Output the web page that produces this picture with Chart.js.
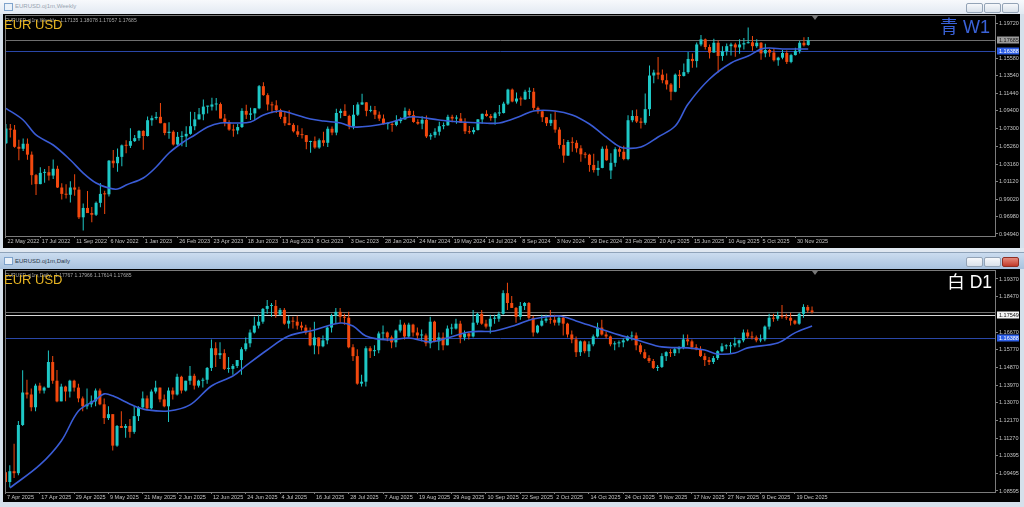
<!DOCTYPE html>
<html>
<head>
<meta charset="utf-8">
<script src="https://cdn.jsdelivr.net/npm/chart.js@4.4.1/dist/chart.umd.min.js"></script>
<style>
  body { margin:0; width:1024px; height:507px; overflow:hidden; position:relative; background:#d6e0eb; font-family:'Liberation Sans', Arial, sans-serif; }
  .bar { position:absolute; left:0; width:1024px; }
  .ttl { position:absolute; left:15px; font-size:6px; white-space:nowrap; }
  .ico { position:absolute; left:4px; width:7px; height:6px; border:1px solid #7fa3cc; background:#eaf1f9; }
  .btn { position:absolute; width:15px; height:8px; border:1px solid #93a3b6; border-radius:2px; background:linear-gradient(#f6f8fb,#d9e1ea); }
  .client { position:absolute; left:3px; width:1017px; background:#000; }
  .client canvas { position:absolute; left:0; top:0; }
  .hdr { position:absolute; left:5px; font-size:5px; color:#a8a8a8; white-space:nowrap; }
  .sym { position:absolute; left:4px; font-size:13px; line-height:13px; color:#e6b422; white-space:nowrap; }
  .tf { position:absolute; font-family:'Liberation Sans','Noto Sans CJK JP',sans-serif; white-space:nowrap; }
  .shift { position:absolute; width:0; height:0; border-left:3px solid transparent; border-right:3px solid transparent; border-top:4px solid #777; }
</style>
</head>
<body>

<!-- weekly window -->
<div class="bar" style="top:0;height:14px;background:linear-gradient(#f7f9fc,#e2e9f2);">
  <div class="ico" style="top:3px"></div>
  <div class="ttl" style="top:3px;color:#98a4b1">EURUSD.oj1m,Weekly</div>
  <div class="btn" style="left:966px;top:3px"></div>
  <div class="btn" style="left:984px;top:3px"></div>
  <div class="btn" style="left:1002px;top:3px"></div>
</div>
<div class="client" style="top:14px;height:234px"><canvas id="weekly" width="1017" height="234"></canvas></div>
<div class="hdr" style="top:17px">EURUSD.oj1m,Weekly&nbsp;&nbsp;&nbsp;1.17135 1.18078 1.17057 1.17685</div>
<div class="sym" style="top:18px">EUR USD</div>
<div class="tf" style="right:34px;top:18px;font-size:18px;line-height:18px;color:#3a62d8">青 W1</div>
<div class="shift" style="left:812px;top:16px"></div>
<div class="bar" style="top:248px;height:4px;background:#dfe7f0;border-bottom:1px solid #8fa3b9"></div>

<!-- daily window -->
<div class="bar" style="top:253px;height:16px;background:linear-gradient(#cbdcef,#a9c2de);">
  <div class="ico" style="top:4px"></div>
  <div class="ttl" style="top:5px;color:#2b3a4c">EURUSD.oj1m,Daily</div>
  <div class="btn" style="left:966px;top:4px"></div>
  <div class="btn" style="left:984px;top:4px"></div>
  <div class="btn" style="left:1002px;top:4px;background:linear-gradient(#e58a7c,#c23a2a);border-color:#8f2e23"></div>
</div>
<div class="client" style="top:269px;height:233px"><canvas id="daily" width="1017" height="233"></canvas></div>
<div class="hdr" style="top:272px">EURUSD.oj1m,Daily&nbsp;&nbsp;&nbsp;1.17767 1.17966 1.17614 1.17685</div>
<div class="sym" style="top:273px">EUR USD</div>
<div class="tf" style="right:32px;top:274px;font-size:17.5px;line-height:17.5px;color:#ffffff">白 D1</div>
<div class="shift" style="left:812px;top:271px"></div>

<script>
// ---- weekly EURUSD, 22 May 2022 .. 21 Dec 2025 ----
const weeklyOpen = [
  1.0560,1.0733,1.0719,1.0518,1.0495,1.0554,1.0426,1.0185,1.0080,1.0212,
  1.0220,1.0180,1.0260,1.0040,0.9965,0.9955,1.0040,1.0015,0.9690,0.9800,
  0.9740,0.9720,0.9860,0.9965,0.9960,1.0355,1.0325,1.0400,1.0535,1.0530,
  1.0585,1.0620,1.0705,1.0645,1.0830,1.0855,1.0870,1.0795,1.0680,1.0695,
  1.0545,1.0635,1.0640,1.0670,1.0760,1.0840,1.0900,1.0990,1.0990,1.1015,
  1.1020,1.0850,1.0805,1.0720,1.0710,1.0750,1.0940,1.0895,1.0910,1.0970,
  1.1230,1.1125,1.1015,1.1005,1.0950,1.0870,1.0795,1.0775,1.0700,1.0660,
  1.0655,1.0575,1.0585,1.0510,1.0595,1.0565,1.0730,1.0685,1.0915,1.0940,
  1.0880,1.0760,1.0895,1.1015,1.1040,1.0940,1.0950,1.0895,1.0850,1.0785,
  1.0785,1.0775,1.0820,1.0840,1.0940,1.0890,1.0810,1.0790,1.0835,1.0640,
  1.0655,1.0695,1.0760,1.0770,1.0870,1.0850,1.0850,1.0800,1.0700,1.0690,
  1.0715,1.0840,1.0905,1.0880,1.0855,1.0910,1.0915,1.1025,1.1190,1.1050,
  1.1085,1.1075,1.1165,1.1165,1.0975,1.0935,1.0865,1.0795,1.0835,1.0720,
  1.0540,1.0415,1.0575,1.0565,1.0500,1.0430,1.0425,1.0305,1.0245,1.0270,
  1.0495,1.0240,1.0330,1.0490,1.0460,1.0375,1.0830,1.0880,1.0815,1.0800,
  1.0960,1.1355,1.1390,1.1365,1.1300,1.1250,1.1165,1.1365,1.1350,1.1395,
  1.1550,1.1525,1.1720,1.1780,1.1690,1.1625,1.1740,1.1585,1.1640,1.1700,
  1.1720,1.1685,1.1720,1.1735,1.1745,1.1700,1.1740,1.1615,1.1655,1.1625,
  1.1535,1.1565,1.1620,1.1515,1.1595,1.1645,1.1740,1.1714
];
const weeklyHigh = [
  1.0787,1.0787,1.0774,1.0601,1.0615,1.0615,1.0462,1.0200,1.0279,1.0258,
  1.0294,1.0368,1.0296,1.0090,1.0079,1.0113,1.0197,1.0050,0.9853,0.9999,
  0.9810,0.9875,1.0094,1.0001,1.0364,1.0481,1.0497,1.0545,1.0594,1.0737,
  1.0657,1.0713,1.0713,1.0874,1.0887,1.0928,1.1033,1.0801,1.0805,1.0712,
  1.0692,1.0700,1.0760,1.0930,1.0927,1.0973,1.1075,1.1000,1.1095,1.1092,
  1.1037,1.0904,1.0829,1.0779,1.0787,1.0971,1.1012,1.0976,1.0973,1.1245,
  1.1276,1.1148,1.1046,1.1065,1.0965,1.0930,1.0946,1.0796,1.0770,1.0737,
  1.0658,1.0588,1.0640,1.0617,1.0695,1.0756,1.0756,1.0966,1.0965,1.1017,
  1.0895,1.1009,1.1040,1.1140,1.1045,1.1000,1.0998,1.0933,1.0897,1.0807,
  1.0805,1.0888,1.0866,1.0981,1.0964,1.0942,1.0843,1.0876,1.0885,1.0678,
  1.0735,1.0812,1.0804,1.0895,1.0895,1.0889,1.0916,1.0852,1.0761,1.0749,
  1.0845,1.0910,1.0948,1.0902,1.0926,1.1008,1.1048,1.1201,1.1202,1.1155,
  1.1109,1.1189,1.1214,1.1210,1.0990,1.0942,1.0867,1.0905,1.0937,1.0749,
  1.0610,1.0597,1.0630,1.0594,1.0536,1.0456,1.0437,1.0436,1.0353,1.0522,
  1.0533,1.0442,1.0514,1.0528,1.0530,1.0888,1.0947,1.0955,1.0858,1.1144,
  1.1473,1.1424,1.1573,1.1425,1.1380,1.1266,1.1378,1.1420,1.1495,1.1631,
  1.1614,1.1743,1.1830,1.1790,1.1720,1.1788,1.1770,1.1700,1.1730,1.1740,
  1.1740,1.1780,1.1795,1.1918,1.1820,1.1780,1.1750,1.1728,1.1670,1.1670,
  1.1575,1.1655,1.1650,1.1610,1.1680,1.1765,1.1805,1.1808
];
const weeklyLow = [
  1.0550,1.0627,1.0506,1.0359,1.0469,1.0366,1.0072,0.9952,1.0077,1.0097,
  1.0123,1.0141,1.0034,0.9899,0.9910,0.9864,0.9944,0.9669,0.9535,0.9740,
  0.9632,0.9705,0.9808,0.9730,0.9935,1.0271,1.0224,1.0290,1.0443,1.0505,
  1.0575,1.0589,1.0483,1.0640,1.0766,1.0835,1.0795,1.0653,1.0614,1.0533,
  1.0533,1.0525,1.0516,1.0660,1.0713,1.0838,1.0831,1.0910,1.0944,1.0943,
  1.0850,1.0760,1.0706,1.0635,1.0666,1.0740,1.0845,1.0834,1.0833,1.0960,
  1.1119,1.0944,1.0912,1.0916,1.0845,1.0765,1.0771,1.0686,1.0632,1.0617,
  1.0488,1.0448,1.0496,1.0495,1.0524,1.0516,1.0655,1.0655,1.0852,1.0880,
  1.0724,1.0723,1.0880,1.1008,1.0877,1.0924,1.0844,1.0822,1.0780,1.0722,
  1.0695,1.0760,1.0795,1.0836,1.0872,1.0802,1.0776,1.0724,1.0622,1.0601,
  1.0624,1.0650,1.0723,1.0764,1.0805,1.0788,1.0797,1.0667,1.0671,1.0666,
  1.0710,1.0790,1.0870,1.0825,1.0776,1.0880,1.0910,1.1008,1.1040,1.1026,
  1.1001,1.1069,1.1080,1.0951,1.0905,1.0810,1.0761,1.0761,1.0682,1.0496,
  1.0332,1.0410,1.0460,1.0451,1.0343,1.0384,1.0226,1.0215,1.0178,1.0265,
  1.0355,1.0141,1.0285,1.0400,1.0360,1.0360,1.0805,1.0797,1.0733,1.0777,
  1.0880,1.1265,1.1310,1.1265,1.1190,1.1065,1.1160,1.1209,1.1345,1.1375,
  1.1446,1.1450,1.1700,1.1660,1.1556,1.1625,1.1392,1.1530,1.1590,1.1590,
  1.1575,1.1610,1.1660,1.1730,1.1645,1.1680,1.1540,1.1570,1.1575,1.1520,
  1.1470,1.1545,1.1490,1.1500,1.1590,1.1615,1.1695,1.1706
];
const weeklyClose = [
  1.0733,1.0719,1.0518,1.0495,1.0554,1.0426,1.0185,1.0080,1.0212,1.0220,
  1.0180,1.0260,1.0040,0.9965,0.9955,1.0040,1.0015,0.9690,0.9800,0.9740,
  0.9720,0.9860,0.9965,0.9960,1.0355,1.0325,1.0400,1.0535,1.0530,1.0585,
  1.0620,1.0705,1.0645,1.0830,1.0855,1.0870,1.0795,1.0680,1.0695,1.0545,
  1.0635,1.0640,1.0670,1.0760,1.0840,1.0900,1.0990,1.0990,1.1015,1.1020,
  1.0850,1.0805,1.0720,1.0710,1.0750,1.0940,1.0895,1.0910,1.0970,1.1230,
  1.1125,1.1015,1.1005,1.0950,1.0870,1.0795,1.0775,1.0700,1.0660,1.0655,
  1.0575,1.0585,1.0510,1.0595,1.0565,1.0730,1.0685,1.0915,1.0940,1.0880,
  1.0760,1.0895,1.1015,1.1040,1.0940,1.0950,1.0895,1.0850,1.0785,1.0785,
  1.0775,1.0820,1.0840,1.0940,1.0890,1.0810,1.0790,1.0835,1.0640,1.0655,
  1.0695,1.0760,1.0770,1.0870,1.0850,1.0850,1.0800,1.0700,1.0690,1.0715,
  1.0840,1.0905,1.0880,1.0855,1.0910,1.0915,1.1025,1.1190,1.1050,1.1085,
  1.1075,1.1165,1.1165,1.0975,1.0935,1.0865,1.0795,1.0835,1.0720,1.0540,
  1.0415,1.0575,1.0565,1.0500,1.0430,1.0425,1.0305,1.0245,1.0270,1.0495,
  1.0360,1.0330,1.0490,1.0460,1.0375,1.0830,1.0880,1.0815,1.0800,1.0960,
  1.1355,1.1390,1.1365,1.1300,1.1250,1.1165,1.1365,1.1350,1.1395,1.1550,
  1.1525,1.1720,1.1780,1.1690,1.1625,1.1740,1.1585,1.1640,1.1700,1.1720,
  1.1685,1.1720,1.1735,1.1745,1.1700,1.1740,1.1615,1.1655,1.1625,1.1535,
  1.1565,1.1620,1.1515,1.1595,1.1645,1.1740,1.1710,1.1769
];
// moving average: bar index / price
const weeklyMaBar = [0,4,7,11,15,18,21,24,26,28,32,35,38,41,44,47,50,53,57,60,64,67,71,74,78,81,85,89,94,96,101,106,111,115,120,123,128,132,136,139,142,144,148,152,156,159,164,169,173,176,178,181,187];
const weeklyMaVal = [1.0970,1.0833,1.0657,1.0539,1.0363,1.0210,1.0093,1.0034,1.0022,1.0069,1.0152,1.0281,1.0445,1.0563,1.0657,1.0751,1.0798,1.0798,1.0809,1.0892,1.0939,1.0903,1.0845,1.0821,1.0798,1.0751,1.0762,1.0798,1.0868,1.0868,1.0833,1.0809,1.0798,1.0798,1.0880,1.0939,1.0939,1.0892,1.0786,1.0668,1.0551,1.0504,1.0516,1.0633,1.0762,1.1021,1.1314,1.1502,1.1584,1.1667,1.1678,1.1667,1.1667];
const weeklyDateLabels = ['22 May 2022','17 Jul 2022','11 Sep 2022','6 Nov 2022','1 Jan 2023','26 Feb 2023','23 Apr 2023','18 Jun 2023','13 Aug 2023','8 Oct 2023','3 Dec 2023','28 Jan 2024','24 Mar 2024','19 May 2024','14 Jul 2024','8 Sep 2024','3 Nov 2024','29 Dec 2024','23 Feb 2025','20 Apr 2025','15 Jun 2025','10 Aug 2025','5 Oct 2025','30 Nov 2025'];
const weeklyPriceTicks = [1.19720,1.15580,1.13540,1.11440,1.09400,1.07300,1.05260,1.03160,1.01120,0.99020,0.96980,0.94940];

// ---- daily EURUSD, 7 Apr 2025 .. 26 Dec 2025 ----
const dailyOpen = [
  1.0955,1.0905,1.0960,1.0950,1.1195,1.1360,1.1350,1.1285,1.1395,1.1370,
  1.1385,1.1515,1.1420,1.1315,1.1390,1.1365,1.1420,1.1385,1.1330,1.1290,
  1.1300,1.1315,1.1370,1.1300,1.1230,1.1250,1.1090,1.1190,1.1180,1.1190,
  1.1160,1.1240,1.1285,1.1330,1.1280,1.1365,1.1385,1.1325,1.1290,1.1370,
  1.1350,1.1440,1.1370,1.1420,1.1445,1.1395,1.1420,1.1425,1.1485,1.1585,
  1.1550,1.1560,1.1480,1.1480,1.1495,1.1525,1.1580,1.1610,1.1665,1.1700,
  1.1720,1.1785,1.1800,1.1800,1.1755,1.1780,1.1710,1.1725,1.1720,1.1700,
  1.1690,1.1665,1.1600,1.1640,1.1595,1.1625,1.1690,1.1750,1.1770,1.1745,
  1.1740,1.1590,1.1545,1.1405,1.1415,1.1585,1.1570,1.1575,1.1660,1.1665,
  1.1640,1.1615,1.1675,1.1705,1.1645,1.1705,1.1665,1.1650,1.1650,1.1610,
  1.1720,1.1620,1.1640,1.1600,1.1685,1.1685,1.1710,1.1640,1.1660,1.1645,
  1.1715,1.1760,1.1710,1.1695,1.1735,1.1735,1.1760,1.1865,1.1815,1.1790,
  1.1745,1.1800,1.1815,1.1740,1.1665,1.1700,1.1725,1.1735,1.1730,1.1715,
  1.1740,1.1710,1.1655,1.1630,1.1565,1.1620,1.1570,1.1605,1.1645,1.1690,
  1.1655,1.1645,1.1605,1.1610,1.1615,1.1625,1.1645,1.1650,1.1600,1.1565,
  1.1535,1.1520,1.1485,1.1490,1.1545,1.1565,1.1560,1.1580,1.1590,1.1630,
  1.1620,1.1590,1.1580,1.1545,1.1525,1.1515,1.1535,1.1570,1.1595,1.1595,
  1.1600,1.1610,1.1625,1.1665,1.1645,1.1640,1.1625,1.1630,1.1695,1.1740,
  1.1735,1.1750,1.1745,1.1740,1.1725,1.1710,1.1760,1.1795,1.1777
];
const dailyHigh = [
  1.0990,1.0990,1.1100,1.1215,1.1473,1.1425,1.1380,1.1405,1.1410,1.1390,
  1.1573,1.1545,1.1475,1.1405,1.1395,1.1425,1.1425,1.1405,1.1340,1.1380,
  1.1345,1.1380,1.1380,1.1330,1.1290,1.1250,1.1195,1.1265,1.1200,1.1225,
  1.1290,1.1290,1.1365,1.1345,1.1375,1.1420,1.1385,1.1350,1.1385,1.1385,
  1.1455,1.1445,1.1420,1.1495,1.1455,1.1425,1.1435,1.1490,1.1630,1.1615,
  1.1615,1.1580,1.1540,1.1505,1.1525,1.1590,1.1640,1.1680,1.1745,1.1755,
  1.1790,1.1830,1.1815,1.1830,1.1790,1.1790,1.1750,1.1745,1.1750,1.1720,
  1.1705,1.1690,1.1720,1.1640,1.1650,1.1695,1.1760,1.1790,1.1790,1.1760,
  1.1770,1.1605,1.1580,1.1450,1.1595,1.1595,1.1600,1.1670,1.1700,1.1670,
  1.1650,1.1680,1.1730,1.1715,1.1715,1.1710,1.1690,1.1680,1.1660,1.1745,
  1.1725,1.1665,1.1665,1.1700,1.1710,1.1735,1.1725,1.1675,1.1665,1.1780,
  1.1765,1.1780,1.1730,1.1755,1.1755,1.1770,1.1880,1.1918,1.1850,1.1795,
  1.1820,1.1820,1.1820,1.1750,1.1705,1.1755,1.1755,1.1780,1.1755,1.1750,
  1.1745,1.1715,1.1675,1.1645,1.1625,1.1625,1.1620,1.1655,1.1715,1.1730,
  1.1670,1.1650,1.1620,1.1625,1.1635,1.1650,1.1670,1.1665,1.1610,1.1580,
  1.1550,1.1530,1.1500,1.1560,1.1570,1.1580,1.1590,1.1595,1.1655,1.1655,
  1.1630,1.1605,1.1595,1.1560,1.1540,1.1545,1.1575,1.1610,1.1605,1.1615,
  1.1640,1.1630,1.1680,1.1680,1.1670,1.1650,1.1655,1.1700,1.1760,1.1760,
  1.1770,1.1805,1.1760,1.1765,1.1730,1.1765,1.1808,1.1805,1.1797
];
const dailyLow = [
  1.0870,1.0880,1.0925,1.0940,1.1190,1.1330,1.1265,1.1265,1.1355,1.1355,
  1.1385,1.1405,1.1310,1.1315,1.1315,1.1335,1.1365,1.1310,1.1265,1.1275,
  1.1285,1.1290,1.1295,1.1200,1.1220,1.1065,1.1085,1.1180,1.1130,1.1130,
  1.1150,1.1215,1.1280,1.1270,1.1275,1.1355,1.1310,1.1285,1.1210,1.1325,
  1.1345,1.1355,1.1365,1.1400,1.1375,1.1385,1.1385,1.1405,1.1470,1.1490,
  1.1530,1.1475,1.1460,1.1450,1.1485,1.1450,1.1570,1.1590,1.1660,1.1685,
  1.1710,1.1760,1.1745,1.1740,1.1750,1.1705,1.1685,1.1685,1.1680,1.1675,
  1.1655,1.1595,1.1555,1.1555,1.1590,1.1605,1.1665,1.1710,1.1715,1.1705,
  1.1585,1.1520,1.1400,1.1390,1.1390,1.1535,1.1545,1.1560,1.1630,1.1620,
  1.1585,1.1590,1.1665,1.1630,1.1640,1.1645,1.1630,1.1620,1.1595,1.1585,
  1.1615,1.1575,1.1575,1.1600,1.1655,1.1680,1.1610,1.1625,1.1630,1.1640,
  1.1705,1.1705,1.1685,1.1660,1.1710,1.1720,1.1755,1.1780,1.1790,1.1715,
  1.1730,1.1780,1.1730,1.1645,1.1660,1.1695,1.1715,1.1710,1.1700,1.1700,
  1.1650,1.1640,1.1610,1.1540,1.1545,1.1560,1.1540,1.1595,1.1640,1.1650,
  1.1635,1.1595,1.1575,1.1590,1.1590,1.1620,1.1625,1.1575,1.1555,1.1530,
  1.1510,1.1480,1.1470,1.1485,1.1520,1.1540,1.1545,1.1560,1.1580,1.1600,
  1.1580,1.1575,1.1540,1.1495,1.1500,1.1505,1.1525,1.1565,1.1580,1.1560,
  1.1590,1.1590,1.1615,1.1635,1.1630,1.1615,1.1615,1.1620,1.1680,1.1720,
  1.1725,1.1735,1.1730,1.1700,1.1705,1.1705,1.1740,1.1765,1.1761
];
const dailyClose = [
  1.0905,1.0960,1.0950,1.1195,1.1360,1.1350,1.1285,1.1395,1.1370,1.1385,
  1.1515,1.1420,1.1315,1.1390,1.1365,1.1420,1.1385,1.1330,1.1290,1.1300,
  1.1315,1.1370,1.1300,1.1230,1.1250,1.1090,1.1190,1.1180,1.1190,1.1160,
  1.1240,1.1285,1.1330,1.1280,1.1365,1.1385,1.1325,1.1290,1.1370,1.1350,
  1.1440,1.1370,1.1420,1.1445,1.1395,1.1420,1.1425,1.1485,1.1585,1.1550,
  1.1560,1.1480,1.1480,1.1495,1.1525,1.1580,1.1610,1.1665,1.1700,1.1720,
  1.1785,1.1800,1.1800,1.1755,1.1780,1.1710,1.1725,1.1720,1.1700,1.1690,
  1.1665,1.1600,1.1640,1.1595,1.1625,1.1690,1.1750,1.1770,1.1745,1.1740,
  1.1590,1.1545,1.1405,1.1415,1.1585,1.1570,1.1575,1.1660,1.1665,1.1640,
  1.1615,1.1675,1.1705,1.1645,1.1705,1.1665,1.1650,1.1650,1.1610,1.1720,
  1.1620,1.1640,1.1600,1.1685,1.1685,1.1710,1.1640,1.1660,1.1645,1.1715,
  1.1760,1.1710,1.1695,1.1735,1.1735,1.1760,1.1865,1.1815,1.1790,1.1745,
  1.1800,1.1815,1.1740,1.1665,1.1700,1.1725,1.1735,1.1730,1.1715,1.1740,
  1.1710,1.1655,1.1630,1.1565,1.1620,1.1570,1.1605,1.1645,1.1690,1.1655,
  1.1645,1.1605,1.1610,1.1615,1.1625,1.1645,1.1650,1.1600,1.1565,1.1535,
  1.1520,1.1485,1.1490,1.1545,1.1565,1.1560,1.1580,1.1590,1.1630,1.1620,
  1.1590,1.1580,1.1545,1.1525,1.1515,1.1535,1.1570,1.1595,1.1595,1.1600,
  1.1610,1.1625,1.1665,1.1645,1.1640,1.1625,1.1630,1.1695,1.1740,1.1735,
  1.1750,1.1745,1.1740,1.1725,1.1710,1.1760,1.1795,1.1777,1.1769
];
const dailyMaBar = [1,8,13,17,21,23,25,30,33,38,43,48,53,56,61,66,72,78,81,84,89,94,99,103,108,114,119,123,129,133,138,143,148,153,159,163,166,170,173,180,184,188];
const dailyMaVal = [1.0875,1.0992,1.1114,1.1266,1.1322,1.1353,1.1343,1.1292,1.1272,1.1266,1.1297,1.1393,1.1444,1.1495,1.1576,1.1647,1.1678,1.1713,1.1698,1.1647,1.1627,1.1637,1.1617,1.1637,1.1668,1.1673,1.1703,1.1734,1.1749,1.1724,1.1688,1.1653,1.1622,1.1592,1.1587,1.1576,1.1556,1.1561,1.1587,1.1612,1.1663,1.1698];
const dailyDateLabels = ['7 Apr 2025','17 Apr 2025','29 Apr 2025','9 May 2025','21 May 2025','2 Jun 2025','12 Jun 2025','24 Jun 2025','4 Jul 2025','16 Jul 2025','28 Jul 2025','7 Aug 2025','19 Aug 2025','29 Aug 2025','10 Sep 2025','22 Sep 2025','2 Oct 2025','14 Oct 2025','24 Oct 2025','5 Nov 2025','17 Nov 2025','27 Nov 2025','9 Dec 2025','19 Dec 2025'];
const dailyPriceTicks = [1.19370,1.18470,1.16670,1.15770,1.14870,1.13970,1.13070,1.12170,1.11270,1.10395,1.09495,1.08595];

// horizontal levels
const bidPrice = 1.17685;
const bluePrice = 1.16388;
const whitePrice = 1.17549;

const BULL = '#1ec8c6';
const BEAR = '#f2480e';
const MA_COLOR = '#3a5cd6';
const AXIS_TEXT = '#c4c4c4';
const LABEL_EVERY = 8;

const mtPlugin = {
  id: 'mtPlugin',
  beforeDatasetsDraw(chart, args, opts) {
    const { ctx, chartArea: a, scales: { y } } = chart;
    ctx.save();
    ctx.lineWidth = 1;
    opts.lines.forEach(l => {
      const py = Math.round(y.getPixelForValue(l.value)) + 0.5;
      ctx.strokeStyle = l.color;
      ctx.beginPath();
      ctx.moveTo(a.left, py);
      ctx.lineTo(a.right, py);
      ctx.stroke();
    });
    ctx.restore();
  },
  afterDraw(chart, args, opts) {
    const { ctx, chartArea: a, scales: { y } } = chart;
    ctx.save();
    ctx.strokeStyle = '#7b7b7b';
    ctx.lineWidth = 1;
    ctx.strokeRect(a.left + 0.5, a.top + 0.5, a.right - a.left - 1, a.bottom - a.top);
    ctx.font = '5.5px "Liberation Sans", Arial, sans-serif';
    ctx.textBaseline = 'middle';
    opts.boxes.forEach(b => {
      const py = Math.round(y.getPixelForValue(b.value));
      ctx.fillStyle = b.bg;
      ctx.fillRect(a.right + 1, py - 3.5, 22, 7);
      ctx.fillStyle = b.fg;
      ctx.fillText(b.value.toFixed(5), a.right + 3, py + 0.5);
    });
    ctx.restore();
  }
};

function candleChart(id, d) {
  const colors = d.close.map((c, i) => (c >= d.open[i] ? BULL : BEAR));
  const wicks = d.low.map((l, i) => ({ x: i, y: [l, d.high[i]] }));
  const bodies = d.open.map((o, i) => ({ x: i, y: [o, d.close[i]] }));
  const ma = d.maBar.map((x, k) => ({ x, y: d.maVal[k] }));
  const font = { size: 5.5, family: '"Liberation Sans", Arial, sans-serif' };

  return new Chart(document.getElementById(id).getContext('2d'), {
    type: 'bar',
    data: {
      datasets: [
        { type: 'line', data: ma, borderColor: MA_COLOR, borderWidth: 1.6, pointRadius: 0, tension: 0.35, order: 0 },
        { data: bodies, backgroundColor: colors, barThickness: 3, minBarLength: 1, grouped: false, borderWidth: 0, inflateAmount: 0, order: 1 },
        { data: wicks, backgroundColor: colors, barThickness: 1, grouped: false, borderWidth: 0, inflateAmount: 0, order: 2 },
      ],
    },
    options: {
      responsive: false,
      animation: false,
      devicePixelRatio: 1,
      layout: { padding: { left: 2, top: 1, right: 0, bottom: 0 } },
      plugins: {
        legend: { display: false },
        tooltip: { enabled: false },
        mtPlugin: { lines: d.lines, boxes: d.boxes },
      },
      scales: {
        x: {
          type: 'linear',
          offset: false,
          min: d.xMin,
          max: d.xMax,
          grid: { offset: false, drawOnChartArea: false, drawTicks: true, tickLength: 2, color: '#808080' },
          border: { display: false },
          ticks: {
            autoSkip: false,
            maxRotation: 0,
            align: 'start',
            padding: 0,
            color: AXIS_TEXT,
            font,
            callback: (v, i) => ' ' + d.dateLabels[i],
          },
          afterBuildTicks: s => { s.ticks = d.dateLabels.map((t, k) => ({ value: k * LABEL_EVERY })); },
          afterFit: s => { s.height = d.xAxisHeight; s.paddingLeft = 0; s.paddingRight = 0; },
        },
        y: {
          position: 'right',
          min: d.yMin,
          max: d.yMax,
          grid: { drawOnChartArea: false, drawTicks: true, tickLength: 2, color: '#808080' },
          border: { display: false },
          ticks: { padding: 1, color: AXIS_TEXT, font, callback: v => v.toFixed(5) },
          afterBuildTicks: s => { s.ticks = d.priceTicks.map(v => ({ value: v })); },
          afterFit: s => { s.width = 24; s.paddingTop = 0; s.paddingBottom = 0; },
        },
      },
    },
    plugins: [mtPlugin],
  });
}

candleChart('weekly', {
  open: weeklyOpen, high: weeklyHigh, low: weeklyLow, close: weeklyClose,
  maBar: weeklyMaBar, maVal: weeklyMaVal,
  dateLabels: weeklyDateLabels, priceTicks: weeklyPriceTicks,
  xMin: -0.233, xMax: 230.77, yMin: 0.94705, yMax: 1.20660, xAxisHeight: 12,
  lines: [{ value: bidPrice, color: '#6f6f6f' }, { value: bluePrice, color: '#2a47a8' }],
  boxes: [{ value: bidPrice, bg: '#9c9c9c', fg: '#1a1a1a' }, { value: bluePrice, bg: '#2e5fe6', fg: '#ffffff' }],
});

candleChart('daily', {
  open: dailyOpen, high: dailyHigh, low: dailyLow, close: dailyClose,
  maBar: dailyMaBar, maVal: dailyMaVal,
  dateLabels: dailyDateLabels, priceTicks: dailyPriceTicks,
  xMin: -0.117, xMax: 230.88, yMin: 1.08544, yMax: 1.19827, xAxisHeight: 10,
  lines: [{ value: bidPrice, color: '#6f6f6f' }, { value: whitePrice, color: '#d8d8d8' }, { value: bluePrice, color: '#2a47a8' }],
  boxes: [{ value: whitePrice, bg: '#f4f4f4', fg: '#111111' }, { value: bluePrice, bg: '#2e5fe6', fg: '#ffffff' }],
});
</script>
</body>
</html>
